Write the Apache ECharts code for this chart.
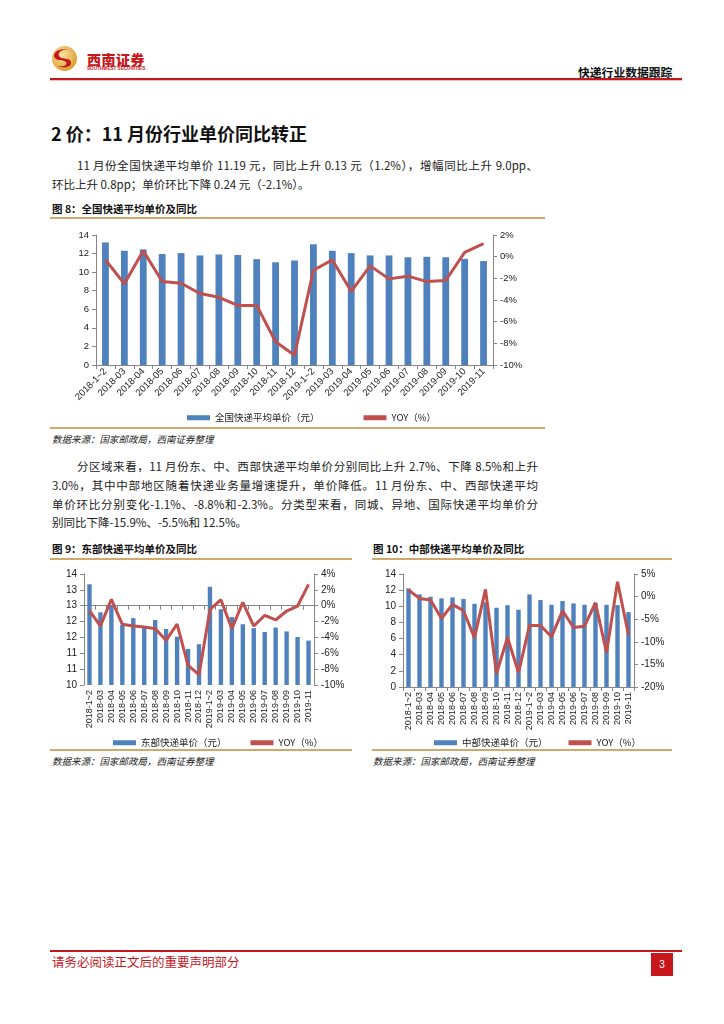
<!DOCTYPE html>
<html>
<head>
<meta charset="utf-8">
<script src="https://cdn.jsdelivr.net/npm/echarts@6/dist/echarts.min.js"></script>
<style>
  html,body{margin:0;padding:0;background:#fff;}
  body{width:724px;height:1024px;position:relative;overflow:hidden;font-family:"Noto Sans CJK SC","Liberation Sans",sans-serif;color:#222;}
  .t{position:absolute;white-space:nowrap;}
  .j{position:absolute;text-align:justify;text-align-last:justify;overflow:hidden;}
  .rule{position:absolute;height:2px;background:#d1a96b;}
  .chart{position:absolute;}
</style>
</head>
<body>
<!-- header -->
<svg class="t" style="left:51px;top:45px" width="27" height="27" viewBox="0 0 27 27">
  <defs>
    <radialGradient id="g" cx="40%" cy="35%" r="70%">
      <stop offset="0%" stop-color="#fbe3a0"/>
      <stop offset="100%" stop-color="#d99a2c"/>
    </radialGradient>
  </defs>
  <circle cx="13.5" cy="13.5" r="12.5" fill="url(#g)"/>
  <path d="M20 6 C14 3 6 6 8 11 C10 15 19 12 20 17 C21 22 13 24 7 21 C13 22 17 20 15 17 C13 14 4 17 3 11 C3 5 13 2 20 6 Z" fill="#c8161d"/>
</svg>
<div class="t" style="left:87px;top:49px;font-size:14px;font-weight:900;color:#c8161d;line-height:20px;letter-spacing:0.5px">西南证券</div>
<div class="t" style="left:87px;top:66px;font-size:4.6px;font-weight:700;color:#c8161d;line-height:6px;font-family:'Liberation Sans',sans-serif">SOUTHWEST SECURITIES</div>
<div class="t" style="left:578px;top:62px;font-size:11.8px;font-weight:700;line-height:20px;color:#111">快递行业数据跟踪</div>
<div class="t" style="left:50px;top:78px;width:632px;height:2px;background:#c8161d"></div>
<div class="t" style="left:50px;top:80px;width:632px;height:1px;background:#f0c0c0"></div>

<!-- section heading -->
<div class="t" style="left:51px;top:121px;font-size:18px;font-weight:700;line-height:24px;color:#111">2 价：11 月份行业单价同比转正</div>
<div class="j" style="left:77px;top:156px;width:461px;height:18px;font-size:11.5px;line-height:18px">11 月份全国快递平均单价 11.19 元，同比上升 0.13 元（1.2%），增幅同比上升 9.0pp、</div>
<div class="t" style="left:52px;top:175px;font-size:11.5px;line-height:18px">环比上升 0.8pp；单价环比下降 0.24 元（-2.1%）。</div>

<!-- figure 8 -->
<div class="t" style="left:52px;top:200px;font-size:10.5px;font-weight:700;line-height:18px;color:#111">图 8：全国快递平均单价及同比</div>
<div class="rule" style="left:50px;top:217px;width:495px"></div>
<div id="c8" class="chart" style="left:50px;top:222px;width:495px;height:205px"></div>
<div class="rule" style="left:50px;top:427px;width:495px"></div>
<div class="t" style="left:52px;top:431px;font-size:9.5px;font-style:italic;line-height:16px">数据来源：国家邮政局，西南证券整理</div>

<!-- paragraph 2 -->
<div class="j" style="left:77px;top:457px;width:461px;height:18px;font-size:11.5px;line-height:18px">分区域来看，11 月份东、中、西部快递平均单价分别同比上升 2.7%、下降 8.5%和上升</div>
<div class="j" style="left:52px;top:476px;width:486px;height:18px;font-size:11.5px;line-height:18px">3.0%，其中中部地区随着快递业务量增速提升，单价降低。11 月份东、中、西部快递平均</div>
<div class="j" style="left:52px;top:495px;width:486px;height:18px;font-size:11.5px;line-height:18px">单价环比分别变化-1.1%、-8.8%和-2.3%。分类型来看，同城、异地、国际快递平均单价分</div>
<div class="t" style="left:52px;top:513px;font-size:11.5px;line-height:18px">别同比下降-15.9%、-5.5%和 12.5%。</div>

<!-- figure 9 & 10 -->
<div class="t" style="left:52px;top:540px;font-size:10.5px;font-weight:700;line-height:18px;color:#111">图 9：东部快递平均单价及同比</div>
<div class="t" style="left:373px;top:540px;font-size:10.5px;font-weight:700;line-height:18px;color:#111">图 10：中部快递平均单价及同比</div>
<div class="rule" style="left:50px;top:558px;width:302px"></div>
<div class="rule" style="left:372px;top:558px;width:300px"></div>
<div id="c9" class="chart" style="left:40px;top:562px;width:320px;height:187px"></div>
<div id="c10" class="chart" style="left:360px;top:562px;width:320px;height:187px"></div>
<div class="rule" style="left:50px;top:749px;width:302px"></div>
<div class="rule" style="left:372px;top:749px;width:300px"></div>
<div class="t" style="left:52px;top:753px;font-size:9.5px;font-style:italic;line-height:16px">数据来源：国家邮政局，西南证券整理</div>
<div class="t" style="left:373px;top:753px;font-size:9.5px;font-style:italic;line-height:16px">数据来源：国家邮政局，西南证券整理</div>

<!-- footer -->
<div class="t" style="left:50px;top:950px;width:632px;height:2px;background:#c8161d"></div>
<div class="t" style="left:52px;top:953px;font-size:12.5px;line-height:18px;color:#c8161d">请务必阅读正文后的重要声明部分</div>
<div class="t" style="left:651px;top:953px;width:22px;height:23px;background:#c8161d;color:#fff;font-size:10px;line-height:23px;text-align:center;font-family:'Liberation Sans',sans-serif">3</div>

<script>
// ---------- data ----------
const categories = ['2018-1~2','2018-03','2018-04','2018-05','2018-06','2018-07','2018-08','2018-09','2018-10','2018-11','2018-12',
                    '2019-1~2','2019-03','2019-04','2019-05','2019-06','2019-07','2019-08','2019-09','2019-10','2019-11'];

const nationalPrice = [13.2,12.3,12.45,11.95,12.05,11.8,11.9,11.85,11.4,11.06,11.25,13.0,12.3,12.05,11.8,11.8,11.6,11.65,11.6,11.43,11.19];
const nationalYoy   = [-0.3,-2.5,0.55,-2.3,-2.45,-3.4,-3.75,-4.5,-4.5,-7.85,-9.1,-1.25,-0.3,-3.2,-0.85,-2.05,-1.8,-2.3,-2.2,0.4,1.2];

const eastPrice = [13.63,12.62,12.87,12.16,12.41,12.08,12.34,12.02,11.74,11.3,11.47,13.54,12.73,12.45,12.19,12.05,11.91,12.07,11.93,11.73,11.6];
const eastYoy   = [-0.63,-2.56,0.8,-2.35,-2.56,-2.69,-2.9,-4.37,-2.31,-7.52,-8.7,-0.5,0.76,-2.9,0.42,-2.56,-1.22,-1.8,-0.67,-0.04,2.7];

const midPrice = [12.22,11.47,11.18,10.98,11.1,10.9,10.31,10.5,9.82,10.14,9.57,11.47,10.77,10.19,10.65,10.36,10.19,10.4,10.19,10.15,9.28];
const midYoy   = [1.45,-0.4,-0.77,-4.84,-1.73,-3.14,-9.13,1.6,-17.0,-9.05,-16.8,-6.4,-6.4,-8.9,-3.14,-6.84,-6.54,-1.36,-12.4,3.3,-8.5];

const yoyName = 'YOY（%）';

// ---------- chart builder ----------
const FF = '"Liberation Sans","Noto Sans CJK SC",sans-serif';
const AX = '#868686';
function build(id, cfg){
  const chart = echarts.init(document.getElementById(id), null, {renderer:'canvas'});
  const lab = {color:'#222', fontFamily:FF, fontSize:cfg.fs};
  chart.setOption({
    animation:false,
    grid:cfg.grid,
    legend:{
      left:cfg.legLeft, top:cfg.legTop, itemGap:cfg.legGap, itemWidth:23, itemHeight:5,
      textStyle:{color:'#222', fontFamily:'"Noto Sans CJK SC",sans-serif', fontSize:cfg.legFs},
      data:[{name:cfg.barName, icon:'rect'},{name:yoyName, icon:'rect'}]
    },
    xAxis:{
      type:'category', data:categories,
      axisLine:{lineStyle:{color:AX, width:1}},
      axisTick:{show:true, length:4, lineStyle:{color:AX}},
      axisLabel:Object.assign({}, lab, {fontSize:cfg.xfs, rotate:cfg.rot, interval:0, margin:5})
    },
    yAxis:[
      {
        type:'value', min:cfg.lMin, max:cfg.lMax, interval:cfg.lInt,
        splitLine:{show:false},
        axisLine:{show:true, lineStyle:{color:AX}},
        axisTick:{show:true, length:4, lineStyle:{color:AX}},
        axisLabel:Object.assign({}, lab, {margin:7, formatter:v => String(Math.round(v))})
      },
      {
        type:'value', position:'right', min:cfg.rMin, max:cfg.rMax, interval:cfg.rInt,
        splitLine:{show:false},
        axisLine:{show:true, lineStyle:{color:AX}},
        axisTick:{show:true, length:4, lineStyle:{color:AX}},
        axisLabel:Object.assign({}, lab, {margin:7, formatter:v => Math.round(v) + '%'})
      }
    ],
    series:[
      {type:'bar', name:cfg.barName, data:cfg.bars, yAxisIndex:0, barWidth:cfg.barW,
       itemStyle:{color:'#4f81bd'}},
      {type:'line', name:yoyName, data:cfg.line, yAxisIndex:1, symbol:'none', z:5,
       lineStyle:{color:'#c0504d', width:3}, itemStyle:{color:'#c0504d'}}
    ]
  });
}

build('c8', {
  grid:{left:46, right:52, top:13, bottom:62},
  fs:9.5, xfs:9.5, rot:45, barW:'36%',
  legLeft:132, legTop:186, legGap:44, legFs:9.5,
  barName:'全国快递平均单价（元）', bars:nationalPrice, line:nationalYoy,
  lMin:0, lMax:14, lInt:2, rMin:-10, rMax:2, rInt:2
});
build('c9', {
  grid:{left:44, right:46, top:12, bottom:64},
  fs:10, xfs:9, rot:90, barW:'40%',
  legLeft:68, legTop:171, legGap:24, legFs:9.5,
  barName:'东部快递单价（元）', bars:eastPrice, line:eastYoy,
  lMin:10, lMax:14, lInt:4/7, rMin:-10, rMax:4, rInt:2
});
build('c10', {
  grid:{left:43, right:46, top:12, bottom:62},
  fs:10, xfs:9, rot:90, barW:'40%',
  legLeft:69, legTop:171, legGap:21, legFs:9.5,
  barName:'中部快递单价（元）', bars:midPrice, line:midYoy,
  lMin:0, lMax:14, lInt:2, rMin:-20, rMax:5, rInt:5
});
</script>
</body>
</html>
